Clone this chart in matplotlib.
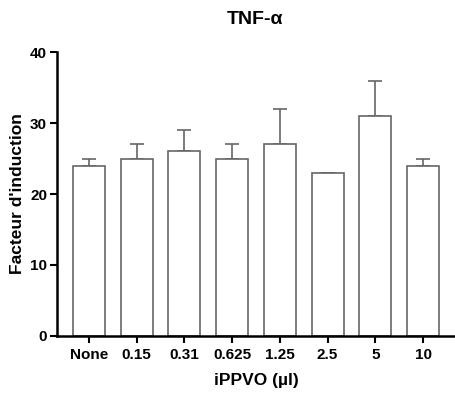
import matplotlib
matplotlib.use("Agg")
import matplotlib.pyplot as plt
import numpy as np

# Data
categories = ["None", "0.15", "0.31", "0.625", "1.25", "2.5", "5", "10"]
values = [24, 25, 26, 25, 27, 23, 31, 24]
errors = [1, 2, 3, 2, 5, 0, 5, 1]

plt.rcParams['font.family'] = ['Liberation Sans', 'DejaVu Sans']
plt.rcParams['font.weight'] = 'bold'

fig = plt.figure(figsize=(4.55, 3.98), dpi=100)
ax = fig.add_axes([0.125, 0.156, 0.875, 0.713])

x = np.arange(len(categories))
ax.bar(x, values, width=0.67, color='white', edgecolor='#666666', linewidth=1.2, zorder=2)
ax.errorbar(x, values, yerr=[np.zeros(len(errors)), errors], fmt='none',
            ecolor='#666666', elinewidth=1.2, capsize=5, capthick=1.2, zorder=1)

ax.set_xlim(-0.67, 7.67)
ax.set_ylim(0, 40)
ax.set_yticks([0, 10, 20, 30, 40])
ax.set_xticks(x)
ax.set_xticklabels(categories)
ax.tick_params(axis='both', labelsize=11, width=1.5, length=5, direction='out')
ax.tick_params(axis='y', pad=2)
for lab in ax.get_xticklabels() + ax.get_yticklabels():
    lab.set_fontweight('bold')

ax.spines['top'].set_visible(False)
ax.spines['right'].set_visible(False)
ax.spines['left'].set_linewidth(1.8)
ax.spines['bottom'].set_linewidth(1.8)

ax.set_ylabel("Facteur d'induction", fontsize=12.5, fontweight='bold', labelpad=4)
ax.set_xlabel("iPPVO (µl)", fontsize=12.5, fontweight='bold', labelpad=8)
fig.text(0.56, 0.95, "TNF-α", ha='center', va='center', fontsize=14, fontweight='bold')

fig.savefig("out.png", dpi=100)
